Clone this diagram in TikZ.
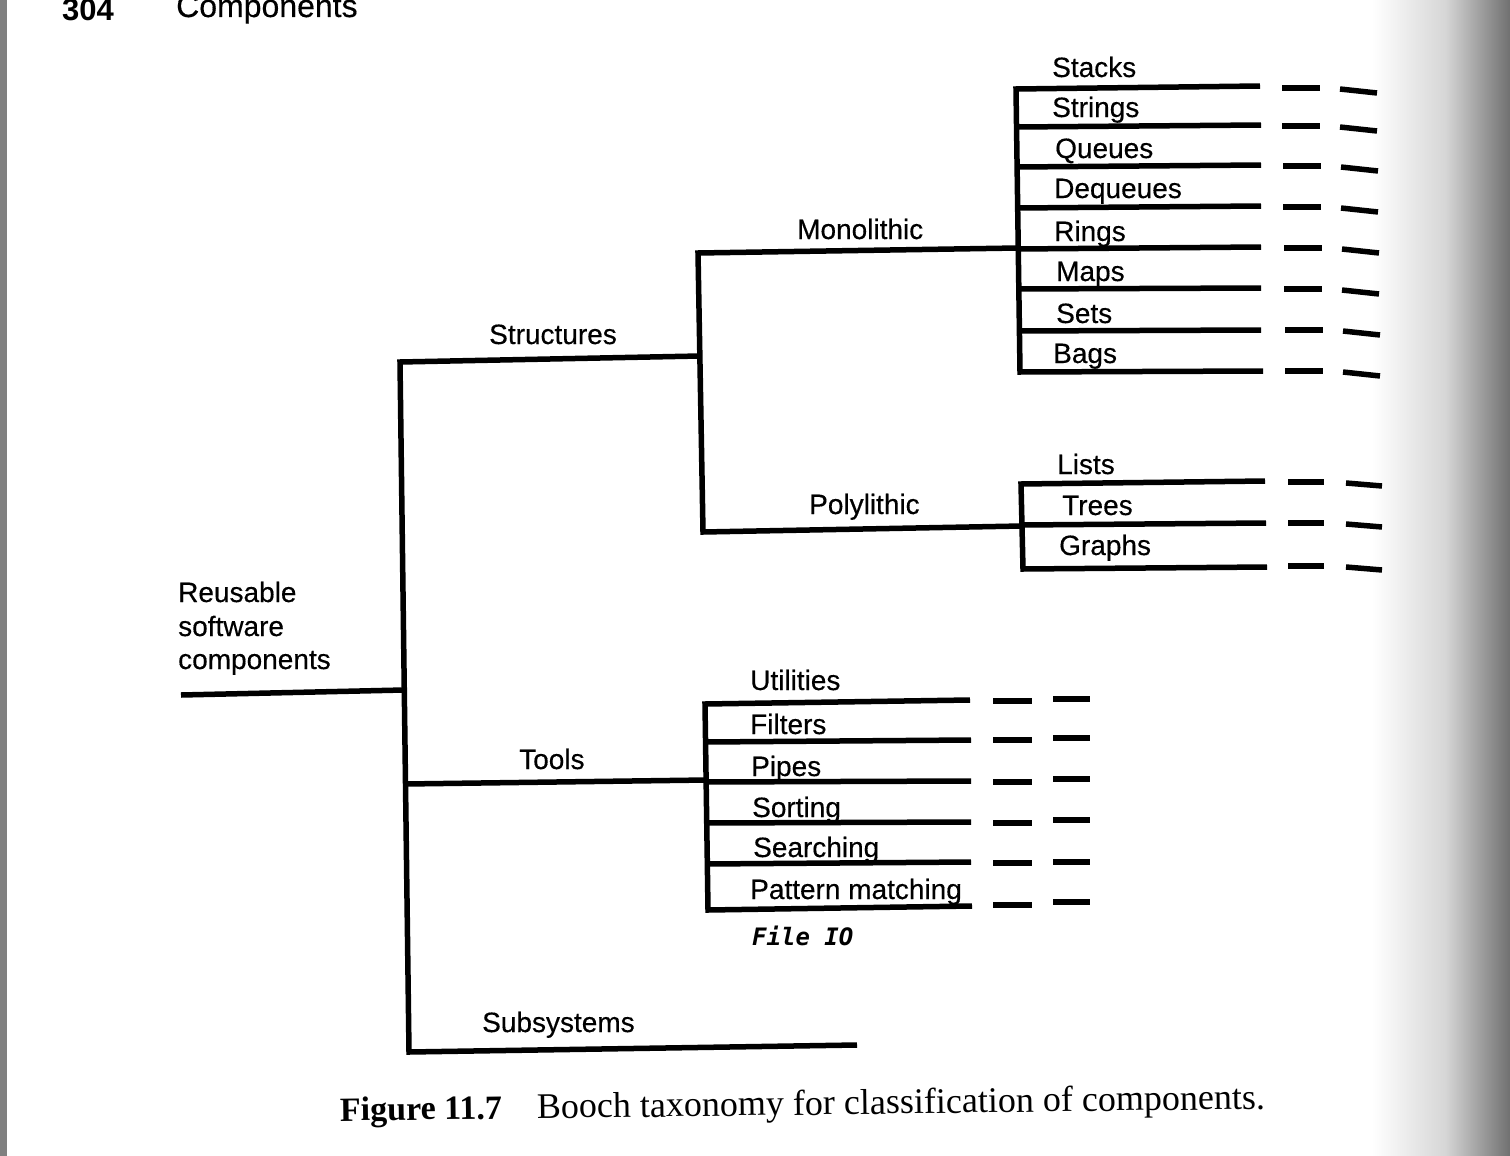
\documentclass[tikz,border=0pt]{standalone}
\usepackage{fontspec}
\setmainfont{Liberation Sans}
\newfontfamily\lblfont[FakeBold=0.35]{Liberation Sans}
\newfontfamily\capfont{Liberation Serif}
\newfontfamily\codefont{DejaVu Sans Mono}
\begin{document}
\begin{tikzpicture}[x=1pt,y=-1pt,
  wire/.style={line width=5.5pt, line join=miter, line cap=butt},
  tick/.style={line width=5.5pt, line cap=butt},
  lbl/.style={anchor=base west, inner sep=0pt, font=\lblfont\fontsize{28}{33}\selectfont},
  head/.style={anchor=base west, inner sep=0pt, font=\lblfont\fontsize{32}{36}\selectfont},
  captionline/.style={anchor=base west, inner sep=0pt, rotate=0.75},
]
\useasboundingbox (0,0) rectangle (1510,1156);
\fill[white] (0,0) rectangle (1510,1156);
% page edge and binding shadow
\fill[black!50] (0,0) rectangle (7,1156);
\shade[left color=white, right color=black!16] (1372,0) rectangle (1445,1156);
\shade[left color=black!16, right color=black!56] (1445,0) rectangle (1510,1156);

% running head
\node[head, font=\fontsize{31}{36}\selectfont\bfseries] (pg) at (62,21) {304};
\node[head] (run) at (176,17) {Components};

% main trunk
\coordinate (rootL) at (181,695);
\coordinate (rootJ) at (404,690);
\coordinate (trunkTop) at (400,362);
\coordinate (trunkBot) at (409,1052);
\coordinate (strJ) at (700,356);
\coordinate (toolL) at (405,784);
\coordinate (toolJ) at (707,780);
\coordinate (subR) at (857,1045);
\draw[wire] (rootL) -- (rootJ);
\draw[wire] (strJ) -- (trunkTop) -- (trunkBot) -- (subR);
\draw[wire] (toolL) -- (toolJ);

% structures: monolithic / polylithic
\coordinate (monoL) at (698,253);
\coordinate (monoR) at (1018,248);
\coordinate (polyL) at (703,532);
\coordinate (polyR) at (1022,526);
\draw[wire] (monoR) -- (monoL) -- (polyL) -- (polyR);

% monolithic group
\coordinate (mgTL) at (1016,89);
\coordinate (mgTR) at (1260,86);
\coordinate (mgBL) at (1020,372);
\coordinate (mgBR) at (1263,371);
\draw[wire] (mgTR) -- (mgTL) -- (mgBL) -- (mgBR);
\foreach \yl/\yr in {127/125,167/165,208/206,249/247,289/288,331/330}
  \draw[wire] (1017,\yl) -- (1261,\yr);
\foreach \y/\s in {88/0,126/0,166/1,207/1,248/2,289/2,330/3,371/3} {
  \draw[tick] ({1282+\s},\y) -- ({1320+\s},\y);
  \draw[tick] ({1340+\s},{\y+1}) -- ({1377+\s},{\y+5});
}

% polylithic group
\coordinate (pgTL) at (1021,484);
\coordinate (pgTR) at (1265,481);
\coordinate (pgBL) at (1023,569);
\coordinate (pgBR) at (1267,567);
\draw[wire] (pgTR) -- (pgTL) -- (pgBL) -- (pgBR);
\draw[wire] (1022,525) -- (1266,523);
\foreach \y in {482,523,566} {
  \draw[tick] (1288,\y) -- (1324,\y);
  \draw[tick] (1346,{\y+1}) -- (1382,{\y+4});
}

% tools group
\coordinate (tgTL) at (705,704);
\coordinate (tgTR) at (970,700);
\coordinate (tgBL) at (708,910);
\coordinate (tgBR) at (972,906);
\draw[wire] (tgTR) -- (tgTL) -- (tgBL) -- (tgBR);
\foreach \yl/\yr in {742/740,782/781,823/822,864/862}
  \draw[wire] (706,\yl) -- (971,\yr);
\foreach \ya/\yb in {701/699,740/738,782/779,823/820,863/862,905/902} {
  \draw[tick] (993,\ya) -- (1032,\ya);
  \draw[tick] (1053,\yb) -- (1090,\yb);
}

% labels
\node[lbl] (root) at (178,602) {Reusable};
\node[lbl] (root2) at (178,636) {software};
\node[lbl] (root3) at (178,669) {components};
\node[lbl] (structures) at (489,344) {Structures};
\node[lbl] (tools) at (519,769) {Tools};
\node[lbl] (subsystems) at (482,1032) {Subsystems};
\node[lbl] (monolithic) at (797,239) {Monolithic};
\node[lbl] (polylithic) at (809,514) {Polylithic};

\node[lbl] (stacks) at (1052,77) {Stacks};
\node[lbl] (strings) at (1052,117) {Strings};
\node[lbl] (queues) at (1055,158) {Queues};
\node[lbl] (dequeues) at (1054,198) {Dequeues};
\node[lbl] (rings) at (1054,241) {Rings};
\node[lbl] (maps) at (1056,281) {Maps};
\node[lbl] (sets) at (1056,323) {Sets};
\node[lbl] (bags) at (1053,363) {Bags};

\node[lbl] (lists) at (1057,474) {Lists};
\node[lbl] (trees) at (1062,515) {Trees};
\node[lbl] (graphs) at (1059,555) {Graphs};

\node[lbl] (utilities) at (750,690) {Utilities};
\node[lbl] (filters) at (750,734) {Filters};
\node[lbl] (pipes) at (751,776) {Pipes};
\node[lbl] (sorting) at (752,817) {Sorting};
\node[lbl] (searching) at (753,857) {Searching};
\node[lbl] (pattern) at (750,899) {Pattern matching};
\node[lbl, font=\codefont\bfseries\itshape\fontsize{24}{28}\selectfont] (fileio) at (752,945) {File IO};

% caption
\node[captionline, font=\capfont\bfseries\fontsize{34}{40}\selectfont] (figno) at (340,1121) {Figure 11.7};
\node[captionline, font=\capfont\fontsize{36}{40}\selectfont] (captext) at (537,1118.5) {Booch taxonomy for classification of components.};
\end{tikzpicture}
\end{document}
